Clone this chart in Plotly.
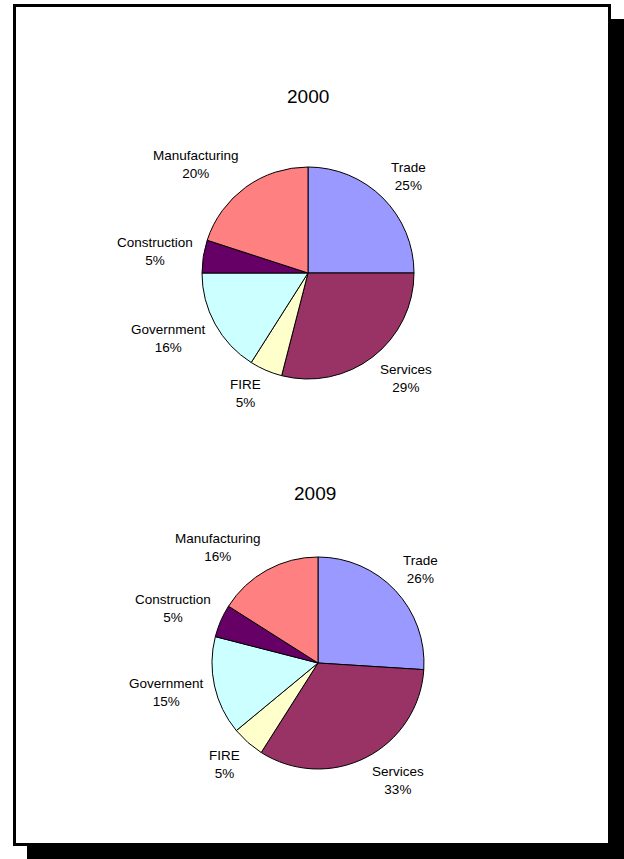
import math
import plotly.graph_objects as go

# Industry shares of employment, two snapshot years
sectors = ["Trade", "Services", "FIRE", "Government", "Construction", "Manufacturing"]
share_2000 = [25, 29, 5, 16, 5, 20]
share_2009 = [26, 33, 5, 15, 5, 16]
years = ["2000", "2009"]

sector_colors = ["#9999FF", "#993366", "#FFFFCC", "#CCFFFF", "#660066", "#FF8080"]

W, H = 624, 859
FONT = "Arial, 'Liberation Sans', sans-serif"
LABEL_SIZE = 13.5


def px_x(x):
    return x / W


def px_y(y):
    return 1 - y / H


def make_pie(values, cx, cy, r):
    return go.Pie(
        labels=sectors,
        values=values,
        sort=False,
        direction="clockwise",
        rotation=0,
        marker=dict(colors=sector_colors, line=dict(color="black", width=1)),
        textinfo="none",
        showlegend=False,
        hoverinfo="label+percent",
        automargin=False,
        domain=dict(x=[px_x(cx - r), px_x(cx + r)], y=[px_y(cy + r), px_y(cy - r)]),
    )


def slice_labels(values, cx, cy, r):
    """Category/percent labels set just outside each slice, at its mid-angle."""
    total = sum(values)
    out = []
    start = 0.0
    gap = 1.08 * r
    half_h = 15.5
    for name, v in zip(sectors, values):
        frac = v / total
        mid = (start + frac / 2) * 2 * math.pi  # clockwise from 12 o'clock
        start += frac
        dx, dy = math.sin(mid), -math.cos(mid)  # screen direction (y down)
        px, py = cx + gap * dx, cy + gap * dy
        k = max(-1.0, min(1.0, math.sqrt(2) * dy))
        out.append(dict(
            text=f"{name}<br>{frac:.0%}",
            x=px_x(px), y=px_y(py), xref="paper", yref="paper",
            xanchor="left" if dx >= 0 else "right", yanchor="middle",
            yshift=-half_h * k,
            showarrow=False, align="center",
            font=dict(family=FONT, size=LABEL_SIZE, color="black"),
        ))
    return out


pies = [(share_2000, 308, 273, 106), (share_2009, 318, 663, 106)]

fig = go.Figure()
for vals, cx, cy, r in pies:
    fig.add_trace(make_pie(vals, cx, cy, r))

# Page frame with an offset drop shadow
shapes = [
    dict(type="rect", xref="paper", yref="paper",
         x0=px_x(27), x1=px_x(640), y0=px_y(19), y1=px_y(880),
         fillcolor="black", line=dict(width=0), layer="below"),
    dict(type="rect", xref="paper", yref="paper",
         x0=px_x(14.5), x1=px_x(609.5), y0=px_y(5.5), y1=px_y(844.5),
         fillcolor="white", line=dict(color="black", width=3), layer="below"),
]

annotations = [
    dict(text=years[0], x=px_x(308), y=px_y(96), xref="paper", yref="paper",
         xanchor="center", yanchor="middle",
         showarrow=False, font=dict(family=FONT, size=19, color="black")),
    dict(text=years[1], x=px_x(315), y=px_y(493), xref="paper", yref="paper",
         xanchor="center", yanchor="middle",
         showarrow=False, font=dict(family=FONT, size=19, color="black")),
]
for vals, cx, cy, r in pies:
    annotations += slice_labels(vals, cx, cy, r)

fig.update_layout(
    width=W, height=H,
    margin=dict(l=0, r=0, t=0, b=0),
    paper_bgcolor="white",
    plot_bgcolor="white",
    shapes=shapes,
    annotations=annotations,
)

fig.write_html("out.html")
